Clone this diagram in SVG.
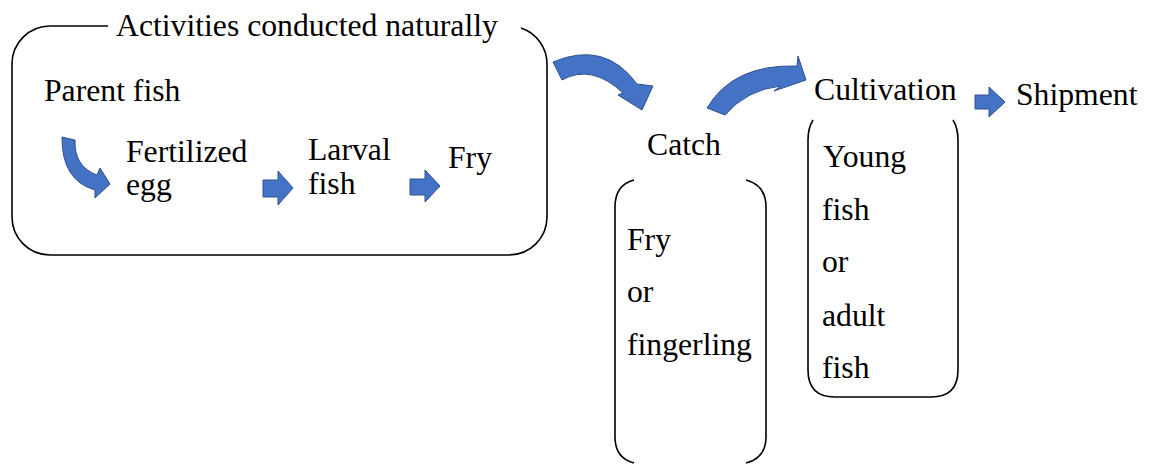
<svg xmlns="http://www.w3.org/2000/svg" width="1149" height="464" viewBox="0 0 1149 464">
<style>
  .t { font-family: 'Liberation Serif', 'Times New Roman', serif; font-size: 31.7px; fill: #000; }
  .frame { fill: none; stroke: #000; stroke-width: 1.6; }
  .arrow { fill: #4472C4; stroke: #2F528F; stroke-width: 1; stroke-linejoin: miter; }
</style>
<rect width="1149" height="464" fill="#fff"/>

<g id="natural">
  <path class="frame" d="M 521,28 A 38 38 0 0 1 547,64 L 547,217 A 38 38 0 0 1 509,255 L 50,255 A 38 38 0 0 1 12,217 L 12,64 A 38 38 0 0 1 50,26 L 108,26"/>
  <text class="t" x="116" y="36">Activities conducted naturally</text>
</g>
<g id="parent"><text class="t" x="44" y="101">Parent fish</text></g>
<g id="egg"><text class="t" x="126" y="162">Fertilized</text><text class="t" x="126" y="195">egg</text></g>
<g id="larval"><text class="t" x="308" y="160">Larval</text><text class="t" x="308" y="194">fish</text></g>
<g id="fry"><text class="t" x="448" y="168">Fry</text></g>

<g id="catch">
  <text class="t" x="647" y="155">Catch</text>
  <path class="frame" d="M 634,180 Q 615,185 615,207 L 615,437 Q 615,458 634,463"/>
  <path class="frame" d="M 746,180 Q 766,185 766,207 L 766,437 Q 766,458 746,463"/>
  <text class="t" x="627" y="250">Fry</text>
  <text class="t" x="627" y="302">or</text>
  <text class="t" x="627" y="355">fingerling</text>
</g>

<g id="cultivation">
  <text class="t" x="814" y="100">Cultivation</text>
  <path class="frame" d="M 813,120 Q 808,128 808,140 L 808,370 Q 808,397 835,397 L 931,397 Q 958,397 958,370 L 958,140 Q 958,128 953,120"/>
  <text class="t" x="823" y="167">Young</text>
  <text class="t" x="822" y="220">fish</text>
  <text class="t" x="822" y="272">or</text>
  <text class="t" x="822" y="326">adult</text>
  <text class="t" x="822" y="378">fish</text>
</g>

<g id="shipment"><text class="t" x="1016" y="105">Shipment</text></g>

<g id="connectors">
  <path class="arrow" d="M 62,137 Q 61.5,180.5 95,190 L 95,198 L 110,184 L 100,168 L 97,175 Q 74,166.5 75,140 Z"/>
  <path class="arrow" d="M 263,180 L 278,180 L 278,171 L 293,188 L 278,205 L 278,197 L 263,197 Z"/>
  <path class="arrow" d="M 410,179 L 425,179 L 425,170 L 440,186 L 425,202 L 425,195 L 410,195 Z"/>
  <path class="arrow" d="M 553,62 Q 605,40 637,84 L 653,86 L 642,110 L 618,95 L 623,93 Q 591.5,63.5 562,80 Z"/>
  <path class="arrow" d="M 707,108 Q 733,64 797,66 L 798,56 L 806,80 L 774,91 L 781,86 Q 747,89.5 725,115 Z"/>
  <path class="arrow" d="M 975,95 L 989,95 L 989,87 L 1005,102 L 989,117 L 989,109 L 975,109 Z"/>
</g>
</svg>
